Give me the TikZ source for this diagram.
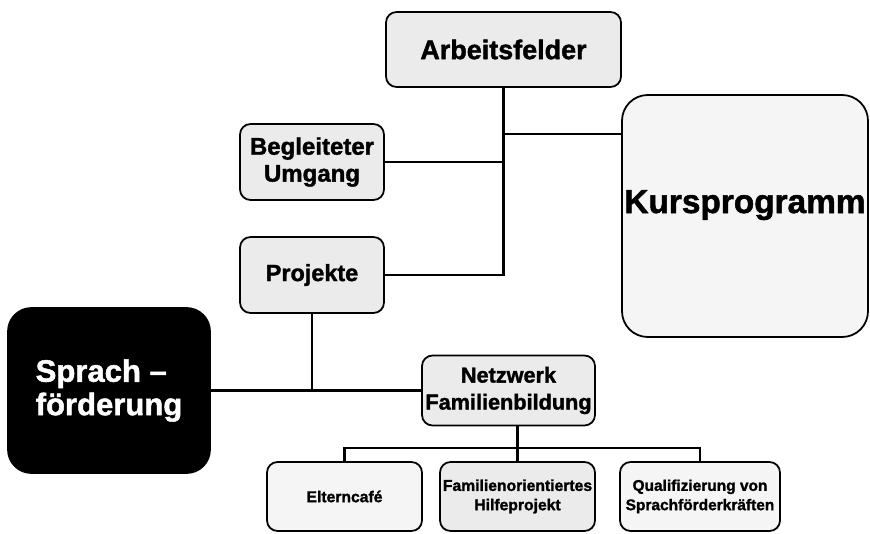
\documentclass[tikz,border=0pt]{standalone}
\usepackage{fontspec}
\setmainfont{Liberation Sans}[BoldFeatures={FakeBold=1.5}]
\begin{document}
\begin{tikzpicture}[x=0.03cm,y=-0.03cm,
  box/.style={draw=black,line width=1.5pt,rounded corners=9pt,fill=gray!16,
    inner sep=0pt,align=center,font=\bfseries},
  lightbox/.style={box,fill=gray!8},
  conn/.style={line width=2.3pt,line cap=rect}]
\useasboundingbox (0,0) rectangle (870,533);
\node[box,minimum width=7.05cm,minimum height=2.25cm,font=\bfseries\fontsize{23}{27}\selectfont] (A) at (503.5,49.5) {Arbeitsfelder};
\node[box,minimum width=4.32cm,minimum height=2.28cm,font=\bfseries\fontsize{20.5}{23}\selectfont] (B) at (312,162) {Begleiteter\\Umgang};
\node[box,minimum width=4.32cm,minimum height=2.28cm,font=\bfseries\fontsize{20}{23}\selectfont] (P) at (312,275) {Projekte};
\node[lightbox,rounded corners=22pt,minimum width=7.38cm,minimum height=7.26cm] (K) at (745,216) {};
\node[anchor=base,inner sep=0pt,font=\bfseries\fontsize{28.5}{32}\selectfont] (Kt) at (745,213) {Kursprogramm};
\node[box,fill=black,text=white,align=left,rounded corners=20pt,minimum width=6.06cm,minimum height=4.95cm,font=\bfseries\fontsize{26.5}{28.5}\selectfont] (S) at (109,390.5) {Sprach --\\förderung};
\node[box,minimum width=5.19cm,minimum height=2.1cm,font=\bfseries\fontsize{18.5}{23}\selectfont] (N) at (508.5,390.5) {Netzwerk\\Familienbildung};
\node[lightbox,minimum width=4.65cm,minimum height=2.07cm,font=\bfseries\fontsize{13.4}{16}\selectfont] (E) at (344.5,496.5) {Elterncafé};
\node[box,minimum width=4.65cm,minimum height=2.07cm,font=\bfseries\fontsize{13.4}{16.5}\selectfont] (F) at (517.5,496.5) {Familienorientiertes\\Hilfeprojekt};
\node[lightbox,minimum width=4.8cm,minimum height=2.07cm,font=\bfseries\fontsize{13.2}{16.5}\selectfont] (Q) at (700,496.5) {Qualifizierung von\\Sprachförderkräften};
% connectors
\coordinate (kj) at (504,134);
\coordinate (bus) at (517.5,448);
\draw[conn] (A.south) |- (P.east);
\draw[conn] (B.east) -- (B.east -| A.south);
\draw[conn] (kj) -- (kj -| K.west);
\draw[conn] (S.east) -- (N.west);
\draw[conn] (P.south) -- (P.south |- S.east);
\draw[conn] (N.south -| F.north) -- (F.north);
\draw[conn] (E.north) |- (bus) -| (Q.north);
\end{tikzpicture}
\end{document}
